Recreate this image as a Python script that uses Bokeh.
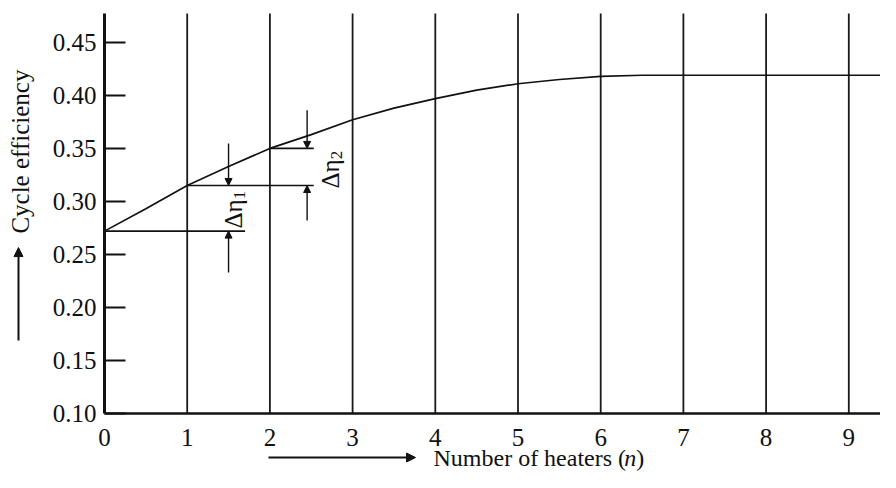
import math
from bokeh.plotting import figure
from bokeh.models import (Range1d, FixedTicker, Label, Arrow, NormalHead,
                          CustomJSTickFormatter)
from bokeh.embed import file_html
from bokeh.resources import INLINE

# ---- data ----
heaters = [0, 0.5, 1, 1.5, 2, 2.5, 3, 3.5, 4, 4.5, 5, 5.5, 6, 6.5, 7, 8, 9, 9.5]
efficiency = [0.272, 0.293, 0.315, 0.333, 0.350, 0.363, 0.377, 0.388, 0.397,
              0.405, 0.411, 0.415, 0.418, 0.419, 0.419, 0.419, 0.419, 0.419]
x_ticks = [0, 1, 2, 3, 4, 5, 6, 7, 8, 9]
y_ticks = [0.10, 0.15, 0.20, 0.25, 0.30, 0.35, 0.40, 0.45]
y_top = 0.4773          # top end of the drawn lines / axis

# reference levels for the delta construction
levels = [0.272, 0.315, 0.350]
level_x0 = [0, 1, 2]
level_x1 = [1.70, 2.53, 2.53]

FONT = "Liberation Serif"
INK = "#111111"

# the frame covers the whole canvas; axes are pinned at x=0 and y=0.10
p = figure(width=880, height=472, output_backend="svg", toolbar_location=None,
           x_range=Range1d(-1.2576, 9.3833), y_range=Range1d(0.04436, 0.4895),
           min_border=0)
p.outline_line_color = None
p.background_fill_color = "white"
p.xgrid.grid_line_color = None
p.ygrid.grid_line_color = None

# vertical lines at every heater count
vx = x_ticks[1:]
p.segment(x0=vx, y0=[y_ticks[0]] * len(vx), x1=vx, y1=[y_top] * len(vx),
          line_color="#1a1a1a", line_width=1.8)

# axes
p.xaxis.fixed_location = y_ticks[0]
p.yaxis.fixed_location = 0
p.xaxis.bounds = (0, 9.3833)
p.yaxis.bounds = (y_ticks[0], y_top)
p.xaxis.ticker = FixedTicker(ticks=x_ticks)
p.yaxis.ticker = FixedTicker(ticks=y_ticks)
p.yaxis.formatter = CustomJSTickFormatter(code="return tick.toFixed(2);")
for ax in (p.xaxis[0], p.yaxis[0]):
    ax.axis_line_color = INK
    ax.major_label_text_font = FONT
    ax.major_label_text_font_size = "25px"
    ax.major_label_text_color = INK
    ax.minor_tick_line_color = None
p.xaxis.axis_line_width = 2.6
p.yaxis.axis_line_width = 3
p.xaxis.major_tick_line_color = None
p.xaxis.major_tick_in = 0
p.xaxis.major_tick_out = 0
p.xaxis.major_label_standoff = 15
p.yaxis.major_tick_in = 21
p.yaxis.major_tick_out = 0
p.yaxis.major_tick_line_width = 2
p.yaxis.major_tick_line_color = INK
p.yaxis.major_label_standoff = 8

# efficiency curve
p.line(heaters, efficiency, line_color=INK, line_width=1.7)

# horizontal construction lines
p.segment(x0=level_x0, y0=levels, x1=level_x1, y1=levels,
          line_color=INK, line_width=1.6)


def arrow(x0, y0, x1, y1, size=7, width=1.4):
    p.add_layout(Arrow(x_start=x0, y_start=y0, x_end=x1, y_end=y1,
                       line_color=INK, line_width=width,
                       end=NormalHead(size=size, fill_color=INK,
                                      line_color=INK)))


def label(x, y, text, size="25px", angle=0, align="center", baseline="middle",
          style="normal"):
    p.add_layout(Label(x=x, y=y, text=text, angle=angle, text_font=FONT,
                       text_font_size=size, text_align=align,
                       text_baseline=baseline, text_color=INK,
                       text_font_style=style))


# delta eta 1
arrow(1.50, 0.3546, 1.50, levels[1])
arrow(1.50, 0.233, 1.50, levels[0])
label(1.560, 0.2745, "Δη", size="25px", angle=math.pi / 2, align="left")
label(1.630, 0.3020, "1", size="17px", angle=math.pi / 2, align="left")
# delta eta 2
arrow(2.45, 0.386, 2.45, levels[2])
arrow(2.45, 0.282, 2.45, levels[1])
label(2.733, 0.3122, "Δη", size="25px", angle=math.pi / 2, align="left")
label(2.803, 0.3397, "2", size="17px", angle=math.pi / 2, align="left")

# axis titles with arrows
label(-1.016, 0.347, "Cycle efficiency", angle=math.pi / 2)
arrow(-1.040, 0.1688, -1.040, 0.2565, size=9, width=2)

xl_y = 0.0585
label(3.978, xl_y, "Number of heaters (", size="24px", align="left")
label(6.285, xl_y, "n", size="24px", align="left", style="italic")
label(6.430, xl_y, ")", size="24px", align="left")
arrow(1.983, xl_y, 3.761, xl_y, size=9, width=2)

open("out.html", "w").write(file_html(p, INLINE))
